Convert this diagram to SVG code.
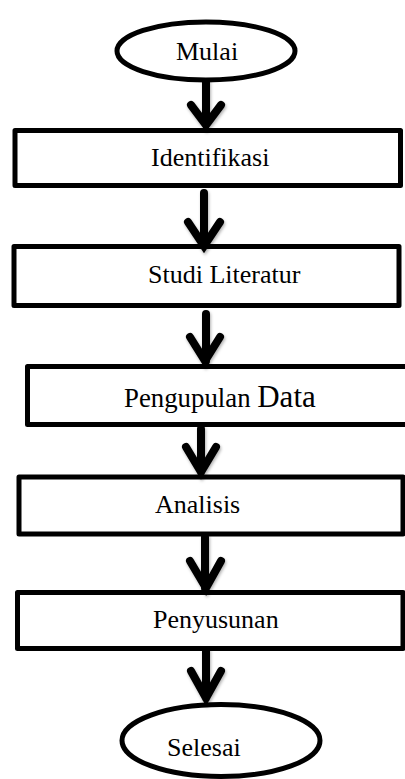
<svg xmlns="http://www.w3.org/2000/svg" width="405" height="779" viewBox="0 0 405 779">
<style>
.box{fill:#fff;stroke:#000;stroke-width:5;stroke-linejoin:round}
.term{fill:#fff;stroke:#000;stroke-width:5}
.lbl{font-family:"Liberation Serif","Times New Roman",serif;font-size:26px;fill:#000}
.arr{fill:none;stroke:#000;stroke-width:8;stroke-linecap:round;stroke-linejoin:miter}
</style>
<defs>
<filter id="sh" x="-50%" y="-20%" width="200%" height="160%">
<feDropShadow dx="1" dy="2" stdDeviation="1.5" flood-color="#000" flood-opacity="0.3"/>
</filter>
</defs>
<rect width="405" height="779" fill="#fff"/>
<g id="mulai"><ellipse class="term" cx="206" cy="51" rx="89" ry="29"/><text class="lbl" x="176" y="60">Mulai</text></g>
<g id="identifikasi"><rect class="box" x="15" y="130.5" width="385.5" height="55"/><text class="lbl" x="151" y="166">Identifikasi</text></g>
<g id="studi"><rect class="box" x="14" y="246.5" width="385" height="59"/><text class="lbl" x="148" y="283">Studi Literatur</text></g>
<g id="pengumpulan"><rect class="box" x="27.5" y="366.5" width="385" height="58"/><text class="lbl" x="124" y="407"><tspan font-size="26.8">Pengupulan </tspan><tspan font-size="31">Data</tspan></text></g>
<g id="analisis"><rect class="box" x="19" y="477" width="384" height="57"/><text class="lbl" x="155" y="513">Analisis</text></g>
<g id="penyusunan"><rect class="box" x="17.5" y="592.5" width="385.5" height="56"/><text class="lbl" x="153" y="628">Penyusunan</text></g>
<g id="selesai"><ellipse class="term" cx="221" cy="740.5" rx="99" ry="36"/><text class="lbl" x="167" y="756">Selesai</text></g>
<g id="connectors" filter="url(#sh)">
<path class="arr" d="M206 82V124M191 105L206 125L221 105"/>
<path class="arr" d="M204 193V246M188 222L204 246L220 222"/>
<path class="arr" d="M206 314V361M190 337L205 361L220 337"/>
<path class="arr" d="M201 429V472M186 447L201 472L216 447"/>
<path class="arr" d="M205 537V588M190 561L206 588L221 561"/>
<path class="arr" d="M206 651V698M191 671L206 698L221 671"/>
</g>
</svg>
